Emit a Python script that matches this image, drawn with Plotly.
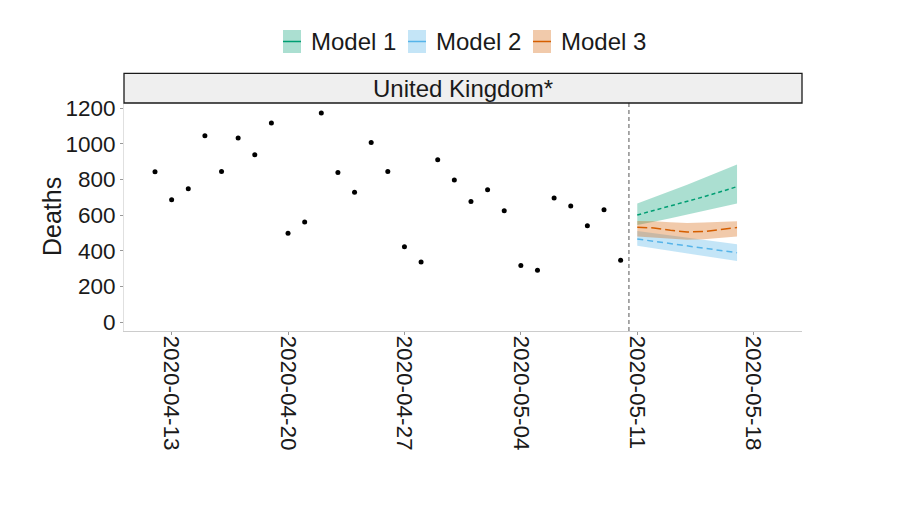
import plotly.graph_objects as go
import pandas as pd

# ---------------- data ----------------
obs_dates = pd.date_range("2020-04-12", "2020-05-10").strftime("%Y-%m-%d").tolist()
obs_deaths = [843, 686, 748, 1046, 845, 1033, 939, 1117, 499, 561,
              1174, 840, 729, 1008, 845, 422, 337, 911, 797, 677,
              742, 624, 317, 291, 696, 652, 540, 630, 347]

fc_dates = ["2020-05-11", "2020-05-12", "2020-05-13", "2020-05-14",
            "2020-05-15", "2020-05-16", "2020-05-17"]
m1_mid = [601, 626, 651, 677, 703, 731, 760]
m1_low = [545, 563, 582, 603, 623, 644, 666]
m1_up = [666, 700, 735, 770, 808, 846, 885]
m2_mid = [466, 453, 440, 427, 414, 402, 389]
m2_low = [428, 413, 399, 385, 370, 356, 342]
m2_up = [511, 498, 486, 473, 461, 448, 436]
m3_mid = [532, 528, 515, 505, 508, 518, 530]
m3_low = [480, 476, 468, 462, 465, 472, 480]
m3_up = [567, 566, 560, 556, 558, 563, 565]

model_names = ["Model 1", "Model 2", "Model 3"]
x_tick_vals = ["2020-04-13", "2020-04-20", "2020-04-27", "2020-05-04", "2020-05-11", "2020-05-18"]
y_tick_vals = [0, 200, 400, 600, 800, 1000, 1200]
panel_title = "United Kingdom*"
forecast_start = "2020-05-10 12:00"

# ---------------- style ----------------
line_colors = ["#009E73", "#56B4E9", "#D55E00"]
fill_colors = ["rgba(0,158,115,0.33)", "rgba(86,180,233,0.35)", "rgba(213,94,0,0.33)"]
dashes = ["4px,3px", "6px,4px", "10px,4px"]
FONT = "Liberation Sans, Arial, sans-serif"
TXT = "#1a1a1a"

# page body adds an 8px offset; compensate so the picture lands where wanted
OFF = 8
W, H = 899, 528
L, R, T, B = 124 - OFF, 802 - OFF, 103 - OFF, 331 - OFF


def px2x(px):
    return (px - OFF - L) / (R - L)


def py2y(py):
    return (B - (py - OFF)) / (B - T)


fig = go.Figure()

bands = [(m1_low, m1_mid, m1_up), (m2_low, m2_mid, m2_up), (m3_low, m3_mid, m3_up)]
for i, (lo, mid, up) in enumerate(bands):
    fig.add_trace(go.Scatter(
        x=fc_dates + fc_dates[::-1], y=up + lo[::-1],
        fill="toself", fillcolor=fill_colors[i], line=dict(width=0),
        mode="lines", hoverinfo="skip", showlegend=False))
for i, (lo, mid, up) in enumerate(bands):
    fig.add_trace(go.Scatter(
        x=fc_dates, y=mid, mode="lines", name=model_names[i],
        line=dict(color=line_colors[i], width=1.5, dash=dashes[i]),
        showlegend=False))

fig.add_trace(go.Scatter(
    x=obs_dates, y=obs_deaths, mode="markers",
    marker=dict(color="black", size=5), showlegend=False, name="Observed"))

shapes = [
    dict(type="line", xref="x", yref="paper", x0=forecast_start, x1=forecast_start,
         y0=0, y1=1, line=dict(color="#555555", width=1, dash="4px,3px")),
    dict(type="rect", xref="paper", yref="paper", x0=0, x1=1,
         y0=1, y1=py2y(73.3), fillcolor="#efefef",
         line=dict(color="#1a1a1a", width=1.3)),
]
annotations = [
    dict(text=panel_title, xref="paper", yref="paper", x=0.5, y=(1 + py2y(73.3)) / 2,
         xanchor="center", yanchor="middle", showarrow=False,
         font=dict(family=FONT, size=24, color=TXT)),
    dict(text="Deaths", xref="paper", yref="paper", x=px2x(52), y=0.5,
         xanchor="center", yanchor="middle", textangle=-90, showarrow=False,
         font=dict(family=FONT, size=25, color=TXT)),
]

# manual legend
sw_left = [283, 408, 533]
for i in range(3):
    x0 = sw_left[i]
    shapes.append(dict(type="rect", xref="paper", yref="paper",
                       x0=px2x(x0), x1=px2x(x0 + 18), y0=py2y(53), y1=py2y(30),
                       fillcolor=fill_colors[i], line=dict(width=0)))
    shapes.append(dict(type="line", xref="paper", yref="paper",
                       x0=px2x(x0), x1=px2x(x0 + 18), y0=py2y(41.5), y1=py2y(41.5),
                       line=dict(color=line_colors[i], width=1.5)))
    annotations.append(dict(text=model_names[i], xref="paper", yref="paper",
                            x=px2x(x0 + 26), y=py2y(42), xanchor="left", yanchor="middle",
                            showarrow=False, font=dict(family=FONT, size=24, color=TXT)))

fig.update_layout(
    width=W, height=H, autosize=False,
    margin=dict(l=L, r=W - R, t=T, b=H - B, pad=0),
    paper_bgcolor="white", plot_bgcolor="white",
    shapes=shapes, annotations=annotations,
    showlegend=False,
    font=dict(family=FONT, color=TXT),
    xaxis=dict(type="date", range=["2020-04-10 03:16", "2020-05-20 21:45"],
               tickmode="array", tickvals=x_tick_vals, ticktext=x_tick_vals,
               tickangle=90, ticks="outside", ticklen=3, tickcolor="#999999",
               ticklabelstandoff=-4,
               showline=True, linecolor="#cccccc", linewidth=1,
               showgrid=False, zeroline=False,
               tickfont=dict(family=FONT, size=22.5, color=TXT)),
    yaxis=dict(range=[-50.5, 1229.6], tickmode="array", tickvals=y_tick_vals,
               ticks="outside", ticklen=3, tickcolor="#999999",
               showline=True, linecolor="#e0e0e0", linewidth=1,
               showgrid=False, zeroline=False,
               tickfont=dict(family=FONT, size=22.5, color=TXT)),
)

fig.write_html("out.html")
